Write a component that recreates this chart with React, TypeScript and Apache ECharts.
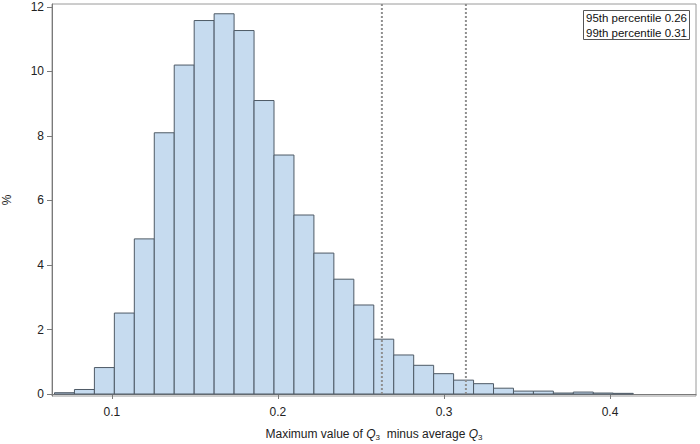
import React, { useEffect, useRef } from "react";
import * as echarts from "echarts";

// Histogram: percent of samples per bin (29 equal-width bins)
const binStart = 0.0654;
const binWidth = 0.01202;
const percentValues = [
  0.04, 0.14, 0.82, 2.51, 4.81, 8.1, 10.2, 11.58, 11.79, 11.27, 9.1, 7.41, 5.55,
  4.37, 3.56, 2.76, 1.7, 1.21, 0.89, 0.63, 0.43, 0.32, 0.18, 0.09, 0.09, 0.03,
  0.06, 0.03, 0.02,
];
const percentileLines = [0.2626, 0.3132];
const legendLines = ["95th percentile 0.26", "99th percentile 0.31"];
const xTicks = [0.1, 0.2, 0.3, 0.4];
const yTicks = [0, 2, 4, 6, 8, 10, 12];

const X_MIN = 0.0639;
const X_MAX = 0.4518;
const Y_MIN = -0.062;
const Y_MAX = 12.093;

export default function App() {
  const ref = useRef<HTMLDivElement>(null);
  useEffect(() => {
    if (!ref.current) return;
    const chart = echarts.init(ref.current, null, { renderer: "svg" });
    const data = percentValues.map((v, i) => [
      binStart + i * binWidth,
      binStart + (i + 1) * binWidth,
      v,
    ]);
    const font = "Liberation Sans, Arial, sans-serif";
    chart.setOption({
      animation: false,
      backgroundColor: "#fff",
      textStyle: { fontFamily: font },
      grid: {
        left: 52,
        right: 4,
        top: 4,
        bottom: 48,
        show: true,
        borderColor: "#9a9a9a",
        borderWidth: 1,
        containLabel: false,
        outerBoundsMode: "none",
      },
      xAxis: {
        type: "value",
        min: X_MIN,
        max: X_MAX,
        splitLine: { show: false },
        axisLine: { show: true, lineStyle: { color: "#7a7a7a", width: 1 } },
        axisTick: {
          show: true,
          length: 5,
          customValues: xTicks,
          lineStyle: { color: "#7a7a7a" },
        },
        axisLabel: {
          customValues: xTicks,
          color: "#222",
          fontSize: 12,
          fontFamily: font,
          margin: 10,
          formatter: (v: number) => String(Number(v.toFixed(2))),
        },
        name: "Maximum value of {q|Q}{sub|3}  minus average {q|Q}{sub|3}",
        nameLocation: "middle",
        nameGap: 31,
        nameTextStyle: {
          color: "#222",
          fontSize: 12,
          fontFamily: font,
          lineHeight: 14,
          rich: {
            q: { fontSize: 12, fontStyle: "italic", fontFamily: font, color: "#222", lineHeight: 14 },
            sub: { fontSize: 8, fontFamily: font, color: "#222", lineHeight: 8, verticalAlign: "bottom" },
          },
        },
      },
      yAxis: {
        type: "value",
        min: Y_MIN,
        max: Y_MAX,
        splitLine: { show: false },
        axisLine: { show: true, lineStyle: { color: "#7a7a7a", width: 1 } },
        axisTick: {
          show: true,
          length: 5,
          customValues: yTicks,
          lineStyle: { color: "#7a7a7a" },
        },
        axisLabel: {
          customValues: yTicks,
          color: "#222",
          fontSize: 12,
          fontFamily: font,
          margin: 8,
        },
        name: "%",
        nameLocation: "middle",
        nameRotate: 90,
        nameGap: 39,
        nameTextStyle: { color: "#222", fontSize: 12, fontFamily: font },
      },
      series: [
        {
          type: "custom",
          data,
          encode: { x: [0, 1], y: 2 },
          renderItem: (params: any, api: any) => {
            const p0 = api.coord([api.value(0), 0]);
            const p1 = api.coord([api.value(1), api.value(2)]);
            return {
              type: "rect",
              shape: {
                x: p0[0],
                y: p1[1],
                width: p1[0] - p0[0],
                height: p0[1] - p1[1],
              },
              style: { fill: "#c6dbef", stroke: "#4e5a66", lineWidth: 1 },
            };
          },
        },
        ...percentileLines.map((v) => ({
          type: "line",
          data: [
            [v, 0],
            [v, Y_MAX],
          ],
          symbol: "none",
          silent: true,
          z: 3,
          lineStyle: { type: [2, 2], color: "#8f8f8f", width: 2 },
        })),
      ],
      graphic: [
        {
          type: "group",
          left: 583,
          top: 10,
          children: [
            {
              type: "rect",
              shape: { x: 0.5, y: 0.5, width: 106, height: 29 },
              style: { fill: "#fff", stroke: "#555", lineWidth: 1 },
            },
            ...legendLines.map((t, i) => ({
              type: "text",
              x: 3,
              y: 8 + i * 14.5,
              style: {
                text: t,
                fill: "#111",
                font: `11.5px ${font}`,
                verticalAlign: "middle",
              },
            })),
          ],
        },
      ],
    });
    return () => chart.dispose();
  }, []);
  return (
    <div
      ref={ref}
      style={{ position: "fixed", left: 0, top: 0, width: 700, height: 444 }}
    />
  );
}
